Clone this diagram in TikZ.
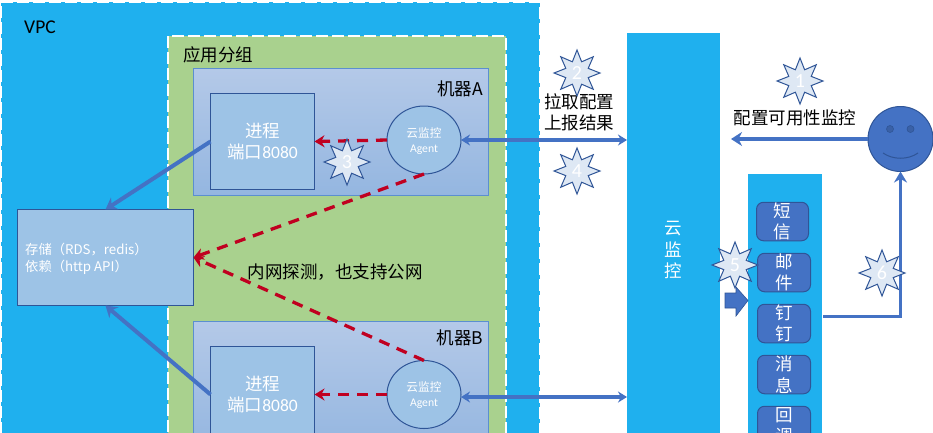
\documentclass[tikz,border=0pt]{standalone}
\usepackage{fontspec}
\setmainfont{Carlito}
\newfontfamily\cjk{Noto Sans CJK SC}
\usetikzlibrary{arrows.meta,shapes.geometric}
\definecolor{vpcblue}{HTML}{1FB0EE}
\definecolor{groupgreen}{HTML}{A9D18E}
\definecolor{boxfill}{HTML}{9DC3E6}
\definecolor{boxline}{HTML}{2F5597}
\definecolor{machtop}{HTML}{B4C9E8}
\definecolor{machbot}{HTML}{94B6E0}
\definecolor{machline}{HTML}{5B8FD0}
\definecolor{flow}{HTML}{4472C4}
\definecolor{probe}{HTML}{C00020}
\definecolor{starfill}{HTML}{DEE8F4}
\newcommand{\szbig}{\fontsize{17.5}{21.5}\selectfont}
\newcommand{\szsmall}{\fontsize{11.7}{15}\selectfont}
\newcommand{\szmid}{\fontsize{13.3}{17}\selectfont}
\tikzset{
  x=1pt,y=-1pt,
  zone/.style={rectangle,inner sep=0pt,outer sep=0pt},
  vpczone/.style={zone,fill=vpcblue},
  groupzone/.style={zone,fill=groupgreen},
  whitedash/.style={draw=white,line width=1.6pt,dash pattern=on 12pt off 4pt},
  machine/.style={zone,draw=machline,line width=1pt,top color=machtop,bottom color=machbot,minimum width=295pt,minimum height=127.5pt},
  proc/.style={zone,draw=boxline,line width=1pt,fill=boxfill,text=white,align=center,font=\cjk\szbig,minimum width=104pt,minimum height=96pt},
  agent/.style={ellipse,inner sep=0pt,outer sep=0pt,draw=boxline,line width=1pt,fill=boxfill,minimum width=74pt,minimum height=68pt},
  agenttxt/.style={inner sep=0pt,text=white,align=center,font=\szsmall,yshift=-1pt},
  plainlabel/.style={inner sep=0pt,outer sep=0pt,text=black,font=\cjk\szbig,align=center},
  channel/.style={zone,fill=flow,draw=boxline,line width=1pt,rounded corners=7pt},
  btxt/.style={inner sep=0pt,text=white,font=\cjk\szbig,align=center},
  arrowblue/.style={draw=flow,line width=4pt,-{Stealth[length=11pt,width=14pt]}},
  thinboth/.style={draw=flow,line width=3.2pt,{Stealth[length=9pt,width=11pt]}-{Stealth[length=9pt,width=11pt]}},
  reddash/.style={draw=probe,line width=3.3pt,dash pattern=on 11pt off 8pt,-{Stealth[length=10pt,width=12pt]}},
  numstar/.style={star,star points=8,star point ratio=1.9,inner sep=0pt,outer sep=0pt,minimum size=46pt,draw=boxline,line width=1pt,fill=starfill,text=white,font=\fontsize{20}{22}\selectfont},
}
\begin{document}
\begin{tikzpicture}
\useasboundingbox (0,0) rectangle (933,432);
\clip (0,0) rectangle (933,432);
\fill[white] (0,0) rectangle (933,432);

% zones
\node[vpczone,minimum width=539pt,minimum height=480pt] (vpc) at (270.5,242) {};
\draw[whitedash] (vpc.south west) -- (vpc.north west) -- (vpc.north east) -- (vpc.south east);
\node[groupzone,minimum width=338pt,minimum height=460pt] (group) at (337,266) {};
\draw[whitedash] (group.south west) -- (group.north west) -- (group.north east) -- (group.south east);
\node[inner sep=0pt,font=\fontsize{19.5}{22}\selectfont,anchor=west] (vpclabel) at (24,27) {VPC};
\node[plainlabel] (grouplabel) at (218,55) {应用分组};

% machines
\node[machine] (machA) at (341,132.2) {};
\node[machine] (machB) at (341,385.2) {};
\node[plainlabel] (machAlabel) at (460,89) {机器A};
\node[plainlabel] (machBlabel) at (460,338) {机器B};

\node[proc] (procA) at (262.5,141.5) {进程\\端口{\fontspec{Carlito}8080}};
\node[proc] (procB) at (262.5,394.5) {进程\\端口{\fontspec{Carlito}8080}};
\node[agent,label={[agenttxt]center:{\cjk 云监控}\\Agent}] (agentA) at (424,140) {};
\node[agent,label={[agenttxt]center:{\cjk 云监控}\\Agent}] (agentB) at (424,394.5) {};

% storage
\node[zone,draw=boxline,line width=1pt,fill=boxfill,minimum width=176pt,minimum height=96pt] (store) at (105.5,257.5) {};
\node[inner sep=0pt,text=white,align=left,font=\cjk\szmid,anchor=west] (storetext) at (25,259) {存储（RDS，redis）\\依赖（http API）};

% cloud monitor and channels
\node[zone,fill=vpcblue,text=white,font=\cjk\szbig,align=center,minimum width=93pt,minimum height=434pt] (cloud) at (673.5,250) {云\\监\\控};
\node[zone,fill=vpcblue,minimum width=74pt,minimum height=290pt] (notify) at (785,319) {};

\node[channel,minimum width=52pt,minimum height=38.5pt,label={[btxt]center:短\\信}] (sms) at (782.5,221.5) {};
\node[channel,minimum width=53pt,minimum height=38.5pt,label={[btxt]center:邮\\件}] (mail) at (784,272.5) {};
\node[channel,minimum width=53pt,minimum height=38.5pt,label={[btxt]center:钉\\钉}] (ding) at (784,323.5) {};
\node[channel,minimum width=53pt,minimum height=38.5pt,label={[btxt]center:消\\息}] (msg) at (784,374.5) {};
\node[channel,minimum width=53pt,minimum height=38.5pt,label={[btxt]center:回\\调}] (hook) at (784,425.5) {};

% person
\node[circle,inner sep=0pt,outer sep=0pt,minimum size=65pt,fill=flow,draw=boxline,line width=1pt] (person) at (900.5,139) {};
\fill[fill=flow!85!black,draw=boxline,line width=.6pt] (890,129) circle (3.5pt) (910.5,129) circle (3.5pt);
\draw[boxline,line width=1pt] (883,153) .. controls (893,160) and (908,160) .. (918,153);

% labels
\node[plainlabel] (pull) at (579,112.5) {拉取配置\\上报结果};
\node[plainlabel] (conf) at (795,118) {配置可用性监控};
\node[plainlabel] (probelabel) at (335,272.5) {内网探测，也支持公网};

% connectors
\draw[arrowblue] (procA.west) -- (store.north);
\draw[arrowblue] (procB.west) -- (store.south);
\draw[reddash] (agentA.south) -- (store.east);
\draw[reddash] (agentB.north) -- (store.east);
\draw[reddash] (agentA.west) -- (procA.east);
\draw[reddash] (agentB.west) -- (procB.east);
\draw[thinboth] (agentA.east) -- (agentA.east -| cloud.west);
\draw[thinboth] (agentB.east) ++(0,2.5) -- ++(166,0);
\draw[arrowblue] (person.west) -- ++(-137,0);
\draw[draw=flow,line width=3pt,-{Stealth[length=11pt,width=13pt]}] (823,316) -| (person.south);

% block arrow
\draw[fill=flow,draw=boxline,line width=.6pt] (725,293) -- (736,293) -- (736,287) -- (748,300.5) -- (736,316) -- (736,308) -- (725,308) -- cycle;

% stars
\node[numstar] (s1) at (800,81) {1};
\node[numstar] (s2) at (577,73) {2};
\node[numstar] (s3) at (347,162) {3};
\node[numstar] (s4) at (577,171) {4};
\node[numstar] (s5) at (735,265) {5};
\node[numstar] (s6) at (882,273) {6};
\end{tikzpicture}
\end{document}
